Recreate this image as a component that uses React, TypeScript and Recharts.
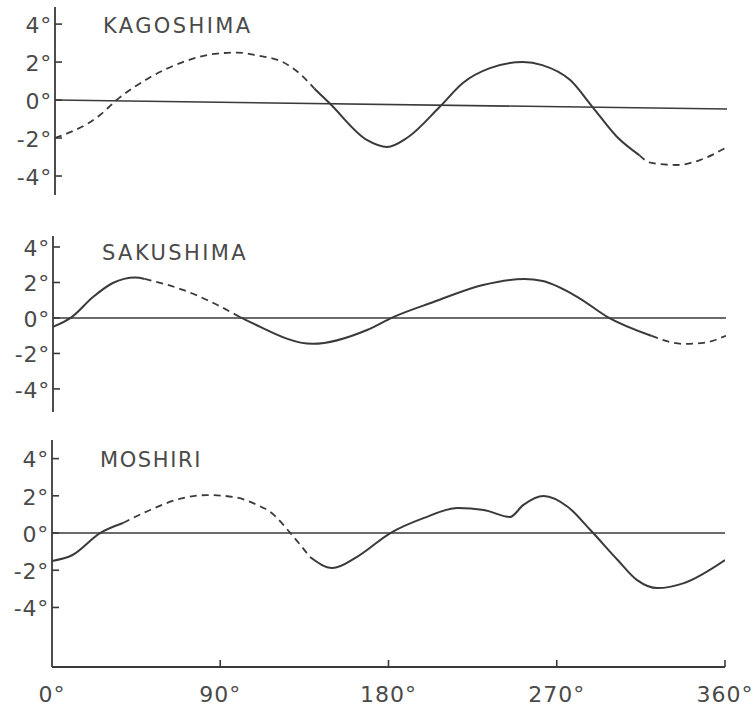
import React from 'react';
import { LineChart, Line, XAxis, YAxis, ReferenceLine } from 'recharts';

// ---------- data ----------
const xTicks = [0, 90, 180, 270, 360];
const yTicks = [-4, -2, 0, 2, 4];

const kagoshimaDeg = [0, 24, 33, 51, 68.5, 87, 97.5, 108, 122, 131, 139, 147, 167, 178, 188.5, 206, 218.5, 233, 250.7, 261, 276, 288, 301, 313, 319, 333, 345.5, 360];
const kagoshimaVal = [-2.0, -0.8, 0, 1.2, 2.0, 2.45, 2.5, 2.35, 2.0, 1.4, 0.6, -0.16, -2.1, -2.47, -2.0, -0.37, 0.9, 1.68, 2.0, 1.84, 1.05, -0.37, -1.93, -2.9, -3.3, -3.42, -3.16, -2.47];
const kagoshimaSolid: [number, number][] = [[139, 313]];
const kagoshimaDashed: [number, number][] = [[0, 139], [313, 360]];
const kagoshimaBaselineEnd = -0.47; // the drawn 0-line drifts slightly downward

const sakushimaDeg = [0, 10, 21.4, 32, 44, 49, 69.6, 88, 100, 105.5, 139, 168, 182, 203.5, 230, 252, 262, 280.6, 296.7, 320, 337.4, 348, 360];
const sakushimaVal = [-0.5, 0.05, 1.18, 1.97, 2.28, 2.2, 1.58, 0.73, 0.05, -0.23, -1.46, -0.68, 0.05, 0.9, 1.86, 2.2, 2.08, 1.18, 0.05, -1.0, -1.46, -1.4, -1.0];
const sakushimaSolid: [number, number][] = [[0, 49], [100, 320]];
const sakushimaDashed: [number, number][] = [[49, 100], [320, 360]];

const moshiriDeg = [0, 11, 25.7, 38, 52.5, 70, 83, 97, 110, 116.8, 127.5, 138, 150, 163, 181, 198.7, 217, 231, 245, 252, 263, 276, 288, 302.6, 313, 324, 338, 360];
const moshiriVal = [-1.5, -1.18, 0, 0.54, 1.24, 1.88, 2.04, 1.94, 1.5, 1.13, 0, -1.29, -1.88, -1.29, 0, 0.8, 1.34, 1.24, 0.86, 1.5, 1.99, 1.4, 0.16, -1.45, -2.53, -2.96, -2.69, -1.45];
const moshiriSolid: [number, number][] = [[0, 38], [138, 360]];
const moshiriDashed: [number, number][] = [[38, 138]];

// ---------- styling ----------
const INK = '#3a3a3a';
const TEXT = '#4a4a4a';
const FONT = '"DejaVu Sans", sans-serif';

const inRanges = (d: number, r: [number, number][]) => r.some(([a, b]) => d >= a && d <= b);

function buildRows(deg: number[], val: number[], solid: [number, number][], dashed: [number, number][]) {
  return deg.map((d, i) => ({
    deg: d,
    solid: inRanges(d, solid) ? val[i] : null,
    dashed: inRanges(d, dashed) ? val[i] : null,
  }));
}

const YTick = (props: any) => {
  const { x, y, payload } = props;
  return (
    <g>
      <line x1={x} x2={x + 7} y1={y} y2={y} stroke={INK} strokeWidth={1.6} />
      <text x={x - 3} y={y} dy="0.4em" textAnchor="end" fontSize={22} fill={TEXT} fontFamily={FONT} letterSpacing={0.8}>
        {`${payload.value}°`}
      </text>
    </g>
  );
};

const XTick = (props: any) => {
  const { x, y, payload } = props;
  return (
    <g>
      {payload.value !== 0 && <line x1={x} x2={x} y1={y} y2={y - 7} stroke={INK} strokeWidth={1.6} />}
      <text x={x} y={y + 35} textAnchor="middle" fontSize={22} fill={TEXT} fontFamily={FONT} letterSpacing={1}>
        {`${payload.value}°`}
      </text>
    </g>
  );
};

type PanelProps = {
  rows: any[];
  top: number;
  height: number;
  marginTop: number;
  marginBottom: number;
  left: number;
  right: number;
  domain: [number, number];
  showX?: boolean;
  baselineEnd?: number;
};

function Panel({ rows, top, height, marginTop, marginBottom, left, right, domain, showX, baselineEnd }: PanelProps) {
  return (
    <div style={{ position: 'absolute', left: 0, top }}>
      <LineChart
        width={754}
        height={height}
        data={rows}
        margin={{ top: marginTop, right: 754 - right, bottom: marginBottom, left: 0 }}
      >
        {showX ? (
          <XAxis
            dataKey="deg"
            type="number"
            domain={[0, 360]}
            ticks={xTicks}
            interval={0}
            allowDataOverflow
            axisLine={{ stroke: INK, strokeWidth: 1.8 }}
            tickLine={false}
            tickSize={0}
            tickMargin={0}
            tick={XTick}
            height={40}
          />
        ) : (
          <XAxis dataKey="deg" type="number" domain={[0, 360]} allowDataOverflow hide />
        )}
        <YAxis
          type="number"
          domain={domain}
          ticks={yTicks}
          interval={0}
          allowDataOverflow
          width={left}
          axisLine={{ stroke: INK, strokeWidth: 1.8 }}
          tickLine={false}
          tickSize={0}
          tickMargin={0}
          tick={YTick}
        />
        {baselineEnd !== undefined ? (
          <ReferenceLine
            segment={[{ x: 0, y: 0 }, { x: 360, y: baselineEnd }]}
            stroke={INK}
            strokeWidth={1.6}
          />
        ) : (
          <ReferenceLine y={0} stroke={INK} strokeWidth={1.6} />
        )}
        <Line
          dataKey="solid"
          type="monotone"
          stroke={INK}
          strokeWidth={2}
          dot={false}
          activeDot={false}
          connectNulls={false}
          isAnimationActive={false}
        />
        <Line
          dataKey="dashed"
          type="monotone"
          stroke={INK}
          strokeWidth={1.8}
          strokeDasharray="7 5"
          dot={false}
          activeDot={false}
          connectNulls={false}
          isAnimationActive={false}
        />
      </LineChart>
    </div>
  );
}

export default function App() {
  const kRows = buildRows(kagoshimaDeg, kagoshimaVal, kagoshimaSolid, kagoshimaDashed);
  const sRows = buildRows(sakushimaDeg, sakushimaVal, sakushimaSolid, sakushimaDashed);
  const mRows = buildRows(moshiriDeg, moshiriVal, moshiriSolid, moshiriDashed);
  const titleStyle = { fontSize: 21, fill: TEXT, fontFamily: FONT, letterSpacing: 2.4 } as const;
  return (
    <div style={{ position: 'absolute', left: 0, top: 0, width: 754, height: 710, background: '#fff' }}>
      <Panel rows={kRows} top={0} height={200} marginTop={7} marginBottom={5} left={55} right={727} domain={[-5, 4.9]} baselineEnd={kagoshimaBaselineEnd} />
      <Panel rows={sRows} top={226} height={194} marginTop={10} marginBottom={8} left={53} right={726} domain={[-5.3, 4.62]} />
      <Panel rows={mRows} top={430} height={277} marginTop={10} marginBottom={0} left={52} right={725} domain={[-7.2, 5.0]} showX />
      <svg width={754} height={710} style={{ position: 'absolute', left: 0, top: 0, pointerEvents: 'none' }}>
        <text x={103} y={33} {...titleStyle}>KAGOSHIMA</text>
        <text x={102} y={260} {...titleStyle}>SAKUSHIMA</text>
        <text x={100} y={467} {...titleStyle} letterSpacing={1.6}>MOSHIRI</text>
      </svg>
    </div>
  );
}
